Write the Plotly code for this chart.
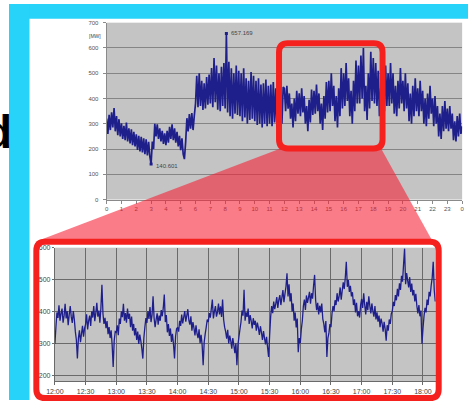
import plotly.graph_objects as go

W, H = 470, 403

# ---------------- data ----------------
# Upper chart: one day of load, one value every 5 minutes (MW), 0:00 .. 24:00
DAY_STEP_MIN = 5
day_load = [
    320, 260, 335, 275, 345, 285, 362, 270, 330, 255, 318, 250,
    302, 240, 292, 235, 305, 230, 282, 222, 278, 215, 268, 210,
    258, 196, 252, 190, 248, 186, 242, 180, 238, 175, 228, 170,
    140.601, 230, 200, 300, 250, 298, 240, 282, 230, 272, 220, 262,
    215, 272, 225, 288, 240, 298, 235, 282, 225, 268, 210, 252,
    195, 242, 180, 160, 228, 322, 270, 338, 280, 342, 275, 332,
    380, 490, 365, 500, 370, 470, 355, 460, 360, 485, 375, 495,
    380, 520, 365, 560, 385, 530, 355, 500, 350, 525, 370, 540,
    360, 657.169, 345, 545, 330, 520, 320, 500, 340, 530, 335, 510,
    330, 500, 310, 520, 325, 480, 300, 470, 315, 505, 320, 490,
    310, 470, 295, 480, 300, 455, 285, 460, 300, 475, 290, 450,
    300, 455, 290, 465, 305, 440, 285, 450, 295, 470, 300, 445,
    440, 350, 450, 360, 420, 320, 380, 285, 400, 310, 430, 340,
    420, 330, 440, 345, 410, 300, 370, 270, 395, 305, 435, 335,
    430, 340, 455, 350, 420, 300, 380, 275, 410, 320, 465, 345,
    470, 350, 500, 370, 450, 310, 410, 285, 440, 330, 520, 360,
    500, 370, 540, 390, 480, 330, 430, 300, 470, 350, 550, 380,
    530, 380, 570, 400, 600, 350, 450, 315, 500, 360, 585, 390,
    560, 380, 540, 370, 510, 330, 440, 310, 480, 350, 530, 370,
    500, 370, 540, 380, 500, 340, 450, 330, 470, 360, 520, 380,
    470, 350, 500, 360, 460, 310, 420, 300, 450, 330, 480, 350,
    440, 330, 470, 350, 430, 300, 400, 290, 420, 320, 450, 340,
    400, 290, 410, 300, 370, 250, 340, 240, 370, 270, 390, 280,
    360, 270, 370, 280, 340, 235, 310, 230, 330, 250, 340, 260,
    290,
]
DAY_TICK_HOURS = list(range(25))
DAY_TICK_LABELS = ['0', '1', '2', '3', '4', '5', '6', '7', '8', '9', '10', '11',
                   '12', '13', '14', '15', '16', '17', '18', '19', '20', '21',
                   '22', '23', '0']
DAY_Y_TICKS = [0, 100, 200, 300, 400, 500, 600, 700]
PEAK_HOUR, PEAK_VALUE, PEAK_LABEL = 8 + 5 / 60, 657.169, '657.169'
LOW_HOUR, LOW_VALUE, LOW_LABEL = 3.0, 140.601, '140.601'

# Lower chart: zoom 12:00 .. 18:12, one value per minute (MW)
ZOOM_STEP_MIN = 1
zoom_load = [
    300, 352, 398, 381, 420, 372, 395, 410, 366, 388, 425, 379, 402, 358, 391,
    418, 384, 365, 402, 376, 338, 312, 254, 318, 342, 305, 331, 356, 322, 348,
    361, 392, 345, 372, 388, 356, 401, 382, 418, 371, 396, 428, 385, 404, 366,
    412, 484, 394, 362, 381, 349, 371, 330, 352, 318, 342, 296, 228, 310, 338,
    336, 358, 327, 379, 362, 401, 383, 425, 372, 396, 366, 410, 378, 394, 352,
    385, 341, 362, 326, 349, 312, 338, 300, 329, 310, 286, 254, 318, 352, 380,
    365, 402, 378, 415, 368, 390, 448, 381, 352, 376, 395, 360, 388, 372, 405,
    386, 412, 454, 368, 390, 336, 362, 325, 348, 306, 331, 298, 254, 322, 347,
    351, 338, 372, 356, 391, 364, 383, 402, 369, 388, 408, 374, 360, 386, 341,
    368, 349, 326, 358, 332, 318, 345, 302, 328, 296, 233, 305, 331, 352, 376,
    368, 396, 382, 410, 438, 379, 401, 418, 385, 399, 426, 392, 417, 384, 438,
    376, 352, 338, 316, 344, 301, 326, 309, 285, 318, 296, 271, 302, 233, 296,
    322, 346, 368, 404, 388, 469, 372, 398, 384, 410, 362, 390, 371, 348, 380,
    359, 372, 341, 366, 350, 328, 355, 336, 312, 340, 318, 298, 322, 289, 259,
    325, 384, 418, 396, 432, 408, 425, 446, 412, 437, 452, 421, 444, 468, 430,
    456, 479, 520, 448, 486, 432, 458, 401, 426, 372, 398, 351, 379, 274, 318,
    302, 346, 372, 418, 438, 406, 451, 428, 444, 462, 425, 458, 441, 482, 515,
    436, 405, 428, 392, 419, 398, 426, 378, 362, 336, 371, 259, 318, 334, 362,
    352, 394, 418, 402, 436, 421, 458, 432, 449, 476, 438, 466, 492, 471, 506,
    556, 478, 499, 462, 481, 448, 461, 421, 439, 398, 428, 386, 402, 382, 421,
    440, 412, 458, 421, 392, 431, 405, 448, 418, 395, 426, 402, 385, 418, 376,
    398, 369, 388, 352, 379, 364, 338, 369, 346, 310, 358, 341, 376, 362, 394,
    402, 431, 418, 452, 436, 472, 448, 489, 468, 512, 494, 548, 597, 486, 521,
    498, 476, 508, 462, 488, 451, 468, 432, 456, 418, 395, 421, 386, 404, 300,
    348, 386, 412, 398, 438, 421, 462, 448, 482, 506, 556, 468, 432,
]
ZOOM_TICK_MIN = [0, 30, 60, 90, 120, 150, 180, 210, 240, 270, 300, 330, 360]
ZOOM_TICK_LABELS = ['12:00', '12:30', '13:00', '13:30', '14:00', '14:30', '15:00',
                    '15:30', '16:00', '16:30', '17:00', '17:30', '18:00']
ZOOM_Y_TICKS = [200, 300, 400, 500, 600]

day_hours = [i * DAY_STEP_MIN / 60 for i in range(len(day_load))]
zoom_minutes = [i * ZOOM_STEP_MIN for i in range(len(zoom_load))]

# ---------------- helpers (pixel -> paper) ----------------
def px(x):
    return x / W


def py(y):
    return 1 - y / H


def rrect(x0, y0, x1, y1, r):
    pts = [
        ('M', (x0 + r, y0)), ('L', (x1 - r, y0)), ('Q', (x1, y0), (x1, y0 + r)),
        ('L', (x1, y1 - r)), ('Q', (x1, y1), (x1 - r, y1)), ('L', (x0 + r, y1)),
        ('Q', (x0, y1), (x0, y1 - r)), ('L', (x0, y0 + r)), ('Q', (x0, y0), (x0 + r, y0)),
    ]
    s = ''
    for p in pts:
        cmd = p[0]
        coords = ' '.join(f'{px(a):.5f},{py(b):.5f}' for a, b in p[1:])
        s += f'{cmd} {coords} '
    return s + 'Z'


def poly(points):
    return 'M ' + ' L '.join(f'{px(a):.5f},{py(b):.5f}' for a, b in points) + ' Z'


LINE = '#1f1f8c'
CYAN = '#27d3f8'
RED = '#f5211f'
FONT = 'Liberation Sans'

fig = go.Figure()
fig.add_trace(go.Scatter(x=day_hours, y=day_load, mode='lines',
                         line=dict(color=LINE, width=1.7, simplify=False),
                         xaxis='x', yaxis='y', hoverinfo='skip'))
fig.add_trace(go.Scatter(x=[PEAK_HOUR, LOW_HOUR], y=[PEAK_VALUE, LOW_VALUE], mode='markers',
                         marker=dict(color=LINE, size=3, symbol='square'),
                         xaxis='x', yaxis='y', hoverinfo='skip'))
fig.add_trace(go.Scatter(x=zoom_minutes, y=zoom_load, mode='lines',
                         line=dict(color=LINE, width=1.3, simplify=False),
                         xaxis='x2', yaxis='y2', hoverinfo='skip'))

tick_font_small = dict(family=FONT, size=6, color='#555555')
tick_font_zoom = dict(family=FONT, size=7, color='#444444')

fig.update_layout(
    width=W, height=H, autosize=False,
    margin=dict(l=0, r=0, t=0, b=0),
    paper_bgcolor='white', plot_bgcolor='#c4c4c4',
    showlegend=False,
    xaxis=dict(domain=[px(100), px(464)], range=[0, 24], tickmode='array',
               tickvals=DAY_TICK_HOURS, ticktext=DAY_TICK_LABELS, showgrid=False,
               zeroline=False, showline=True, linecolor='#8a8a8a', linewidth=1,
               ticks='outside', ticklen=3, tickcolor='#8a8a8a', tickfont=tick_font_small,
               anchor='y', fixedrange=True),
    yaxis=dict(domain=[py(199), py(19)], range=[0, 700], tickmode='array',
               tickvals=DAY_Y_TICKS, showgrid=True, gridcolor='#858585', gridwidth=1,
               zeroline=False, showline=True, linecolor='#8a8a8a', linewidth=1,
               ticks='outside', ticklen=3, tickcolor='#8a8a8a', tickfont=tick_font_small,
               anchor='x', fixedrange=True, ticklabelstandoff=3),
    xaxis2=dict(domain=[px(47), px(437)], range=[0, 372.5], tickmode='array',
                tickvals=ZOOM_TICK_MIN, ticktext=ZOOM_TICK_LABELS, showgrid=True,
                gridcolor='#6a6a6a', gridwidth=1, zeroline=False, showline=True,
                linecolor='#6a6a6a', linewidth=1, ticks='outside', ticklen=3,
                tickcolor='#6a6a6a', tickfont=tick_font_zoom, anchor='y2', fixedrange=True),
    yaxis2=dict(domain=[py(384), py(248)], range=[183, 600], tickmode='array',
                tickvals=ZOOM_Y_TICKS, showgrid=True, gridcolor='#6a6a6a', gridwidth=1,
                zeroline=False, showline=True, linecolor='#6a6a6a', linewidth=1,
                ticks='outside', ticklen=2, tickcolor='#6a6a6a', tickfont=tick_font_zoom,
                anchor='x2', fixedrange=True),
)

shapes = [
    # slide background strips
    dict(type='rect', xref='paper', yref='paper', x0=0, x1=1, y0=py(15), y1=1,
         fillcolor=CYAN, line_width=0, layer='below'),
    dict(type='rect', xref='paper', yref='paper', x0=0, x1=px(21), y0=0, y1=1,
         fillcolor=CYAN, line_width=0, layer='below'),
    # zoom funnel
    dict(type='path', xref='paper', yref='paper',
         path=poly([(278, 147), (381, 147), (434, 242), (27, 242)]),
         fillcolor='rgba(245,30,50,0.58)', line_width=0, layer='above'),
    # highlight box on the day chart
    dict(type='path', xref='paper', yref='paper', path=rrect(276.5, 40, 382.5, 147, 9),
         line=dict(color=RED, width=6), fillcolor='rgba(0,0,0,0)', layer='above'),
    # frame round the zoomed chart
    dict(type='path', xref='paper', yref='paper', path=rrect(28, 242, 440, 401, 9),
         line=dict(color=RED, width=6), fillcolor='rgba(0,0,0,0)', layer='above'),
]
fig.update_layout(shapes=shapes)

annotations = [
    dict(text='d', xref='paper', yref='paper', x=px(5.5), y=py(130), xanchor='right',
         yanchor='middle', showarrow=False,
         font=dict(family=FONT, size=46, color='black', weight='bold')),
    dict(text='[MW]', xref='paper', yref='paper', x=px(88), y=py(33), xanchor='center',
         yanchor='middle', showarrow=False, font=dict(family=FONT, size=5, color='#444444')),
    dict(text=PEAK_LABEL, xref='x', yref='y', x=PEAK_HOUR, y=PEAK_VALUE, xanchor='left',
         yanchor='middle', xshift=3, showarrow=False,
         font=dict(family=FONT, size=6, color='#444444')),
    dict(text=LOW_LABEL, xref='x', yref='y', x=LOW_HOUR, y=LOW_VALUE, xanchor='left',
         yanchor='middle', xshift=3, yshift=-2, showarrow=False,
         font=dict(family=FONT, size=6, color='#444444')),
]
fig.update_layout(annotations=annotations)

fig.write_html('out.html')
